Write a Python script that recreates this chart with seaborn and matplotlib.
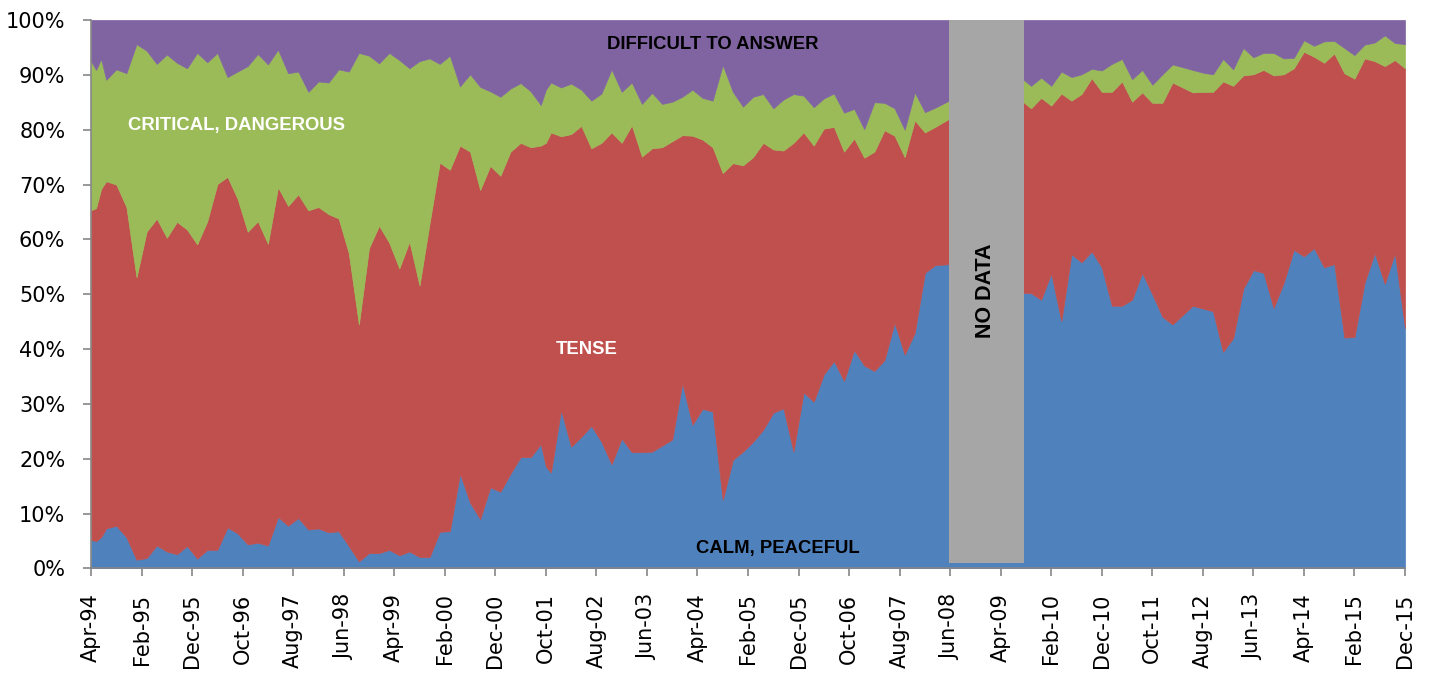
import numpy as np
import pandas as pd
import matplotlib
matplotlib.use("Agg")
import matplotlib.pyplot as plt
import seaborn as sns
from matplotlib.patches import Rectangle

# survey months, counted from Apr-1994 (0) to Dec-2015 (260)
months = [0, 1, 2, 3, 5, 7, 9, 11, 13, 15, 17, 19, 21, 23, 25, 27, 29, 31, 33, 35,
          37, 39, 41, 43, 45, 47, 49, 51, 53, 55, 57, 59, 61, 63, 65, 67, 69, 71, 73, 75,
          77, 79, 81, 83, 85, 87, 89, 90, 91, 93, 95, 97, 99, 101, 103, 105, 107, 109, 111, 113,
          115, 117, 119, 121, 123, 125, 127, 129, 131, 133, 135, 137, 139, 141, 143, 145, 147, 149, 151, 153,
          155, 157, 159, 161, 163, 165, 167, 170, 184, 186, 188, 190, 192, 194, 196, 198, 200, 202, 204, 206,
          208, 210, 212, 214, 216, 218, 220, 222, 224, 226, 228, 230, 232, 234, 236, 238, 240, 242, 244, 246,
          248, 250, 252, 254, 256, 258, 260]

calm = [5.2, 5.0, 5.7, 7.3, 7.8, 5.7, 1.6, 1.9, 4.2, 3.1, 2.6, 4.1, 1.8, 3.4, 3.4, 7.5, 6.4, 4.4, 4.7, 4.2,
        9.4, 7.8, 9.2, 7.1, 7.3, 6.6, 6.8, 4.1, 1.3, 2.8, 2.8, 3.4, 2.4, 3.1, 2.1, 2.1, 6.7, 6.8, 17.3, 12.0,
        9.0, 14.8, 14.0, 17.3, 20.3, 20.3, 22.7, 18.6, 17.5, 28.9, 22.2, 24.0, 26.0, 23.1, 19.0, 23.7, 21.2, 21.2, 21.3, 22.4,
        23.5, 33.8, 26.2, 29.1, 28.6, 12.5, 19.8, 21.3, 23.1, 25.3, 28.4, 29.2, 21.3, 32.1, 30.4, 35.4, 37.8, 34.2, 39.8, 37.0,
        36.0, 38.0, 44.8, 39.0, 43.0, 53.9, 55.3, 55.5, 50.3, 50.2, 49.0, 53.8, 45.1, 57.3, 55.8, 57.8, 54.9, 47.9, 47.9, 49.0,
        53.9, 50.0, 45.9, 44.5, 46.2, 47.9, 47.4, 46.9, 39.5, 42.0, 51.0, 54.4, 53.9, 47.5, 52.1, 58.1, 56.9, 58.4, 54.9, 55.5,
        42.1, 42.2, 52.1, 57.5, 51.9, 57.5, 43.8]

tense = [60.1, 60.7, 63.5, 63.3, 62.2, 60.2, 51.5, 59.5, 59.6, 57.2, 60.6, 57.7, 57.3, 59.9, 66.7, 63.9, 61.0, 57.0, 58.6, 55.0,
         60.1, 58.3, 59.0, 58.2, 58.6, 58.0, 57.0, 53.4, 43.2, 55.6, 59.7, 56.0, 52.3, 56.5, 49.5, 60.9, 67.3, 65.9, 59.8, 64.0,
         60.0, 58.6, 57.6, 58.7, 57.3, 56.5, 54.4, 59.0, 62.0, 49.9, 57.0, 56.7, 50.6, 54.5, 60.5, 53.9, 59.6, 53.9, 55.3, 54.4,
         54.4, 45.2, 52.7, 49.1, 48.2, 59.6, 54.1, 52.2, 51.9, 52.3, 48.0, 47.0, 56.3, 47.4, 46.7, 44.8, 42.7, 41.8, 38.6, 37.9,
         40.0, 41.9, 34.1, 36.0, 38.7, 25.6, 25.2, 26.6, 35.1, 33.7, 36.8, 30.6, 41.5, 28.0, 30.7, 31.6, 32.0, 39.0, 40.9, 36.1,
         32.9, 34.9, 39.0, 44.1, 41.5, 38.9, 39.5, 40.0, 49.3, 46.0, 38.9, 35.7, 37.0, 42.4, 38.0, 33.1, 37.3, 34.9, 37.3, 38.4,
         48.2, 47.1, 40.9, 35.0, 39.7, 35.2, 47.4]

critical = [27.2, 25.2, 23.7, 18.5, 21.0, 24.4, 42.5, 33.0, 28.2, 33.4, 29.0, 29.4, 34.9, 29.0, 23.9, 18.2, 23.2, 30.2, 30.5, 32.7,
            25.1, 24.2, 22.4, 21.6, 22.9, 24.0, 27.2, 33.1, 49.5, 35.1, 29.6, 34.6, 38.0, 31.6, 40.9, 30.0, 18.0, 20.8, 10.8, 14.1,
            18.8, 13.6, 14.4, 11.5, 10.9, 10.2, 7.4, 9.7, 9.1, 8.9, 9.2, 6.6, 8.7, 9.0, 11.5, 9.3, 7.8, 9.6, 10.1, 7.9,
            7.2, 7.0, 8.4, 7.6, 8.5, 19.7, 13.0, 10.7, 11.0, 8.9, 7.5, 9.3, 8.9, 6.7, 7.0, 5.5, 6.1, 7.1, 5.4, 5.2,
            9.0, 5.0, 5.0, 5.0, 5.1, 3.7, 3.5, 3.3, 4.1, 4.1, 3.7, 3.6, 4.0, 4.3, 3.6, 1.7, 3.9, 5.1, 4.1, 4.1,
            4.1, 3.3, 5.2, 3.3, 3.7, 4.1, 3.5, 3.2, 4.1, 3.0, 5.0, 3.1, 3.1, 4.1, 2.9, 1.9, 2.1, 2.0, 3.9, 2.3,
            4.6, 4.3, 2.5, 3.4, 5.6, 3.1, 4.4]

difficult = [7.5, 9.1, 7.1, 10.9, 9.0, 9.7, 4.4, 5.6, 8.0, 6.3, 7.8, 8.8, 6.0, 7.7, 6.0, 10.4, 9.4, 8.4, 6.2, 8.1,
             5.4, 9.7, 9.4, 13.1, 11.2, 11.4, 9.0, 9.4, 6.0, 6.5, 7.9, 6.0, 7.3, 8.8, 7.5, 7.0, 8.0, 6.5, 12.1, 9.9,
             12.2, 13.0, 14.0, 12.5, 11.5, 13.0, 15.5, 12.7, 11.4, 12.3, 11.6, 12.7, 14.7, 13.4, 9.0, 13.1, 11.4, 15.3, 13.3, 15.3,
             14.9, 14.0, 12.7, 14.2, 14.7, 8.2, 13.1, 15.8, 14.0, 13.5, 16.1, 14.5, 13.5, 13.8, 15.9, 14.3, 13.4, 16.9, 16.2, 19.9,
             15.0, 15.1, 16.1, 20.0, 13.2, 16.8, 16.0, 14.6, 10.5, 12.0, 10.5, 12.0, 9.4, 10.4, 9.9, 8.9, 9.2, 8.0, 7.1, 10.8,
             9.1, 11.8, 9.9, 8.1, 8.6, 9.1, 9.6, 9.9, 7.1, 9.0, 5.1, 6.8, 6.0, 6.0, 7.0, 6.9, 3.7, 4.7, 3.9, 3.8,
             5.1, 6.4, 4.5, 4.1, 2.8, 4.2, 4.4]

series_labels = ["CALM, PEACEFUL", "TENSE", "CRITICAL, DANGEROUS", "DIFFICULT TO ANSWER"]
tick_labels = pd.date_range("1994-04-01", "2015-12-01", freq="10MS").strftime("%b-%y")

sns.set_theme(style="white")
plt.rcParams["font.family"] = ["DejaVu Sans"]

colors = ["#4F81BD", "#C0504D", "#9BBB59", "#8064A2"]
axis_grey = "#868686"

fig, ax = plt.subplots(figsize=(14.29, 6.73), dpi=100)
fig.subplots_adjust(left=0.0637, right=0.9832, top=0.9703, bottom=0.1553)

polys = ax.stackplot(months, calm, tense, critical, difficult, colors=colors, labels=series_labels)
for p, c in zip(polys, colors):
    p.set_edgecolor(c)
    p.set_linewidth(0.5)

# gap in the survey
ax.add_patch(Rectangle((169.8, 1.0), 14.8, 99.0, facecolor="#A6A6A6", edgecolor="none", zorder=3))

lab_font = dict(family="Liberation Sans", fontweight="bold", ha="center", va="center")
ax.text(28.8, 80.8, "CRITICAL, DANGEROUS", color="white", fontsize=13.3, **lab_font)
ax.text(123.1, 95.5, "DIFFICULT TO ANSWER", color="black", fontsize=13.3, **lab_font)
ax.text(98.1, 40.0, "TENSE", color="white", fontsize=13.3, **lab_font)
ax.text(135.9, 3.7, "CALM, PEACEFUL", color="black", fontsize=13.3, **lab_font)
ax.text(176.9, 50.7, "NO DATA", color="black", rotation=90, zorder=4, fontsize=15.5, **lab_font)

ax.set_xlim(0, 260)
ax.set_ylim(0, 100)
ax.set_xticks(np.arange(0, 261, 10))
ax.set_xticklabels(tick_labels, rotation=90)
ax.set_yticks(np.arange(0, 101, 10))
ax.set_yticklabels([f"{v}%" for v in range(0, 101, 10)])

for side in ["top", "right"]:
    ax.spines[side].set_visible(False)
for side in ["left", "bottom"]:
    ax.spines[side].set_color(axis_grey)
    ax.spines[side].set_linewidth(1.2)
    ax.spines[side].set_zorder(5)

ax.tick_params(axis="both", which="major", direction="out", length=6, width=1.2,
               color=axis_grey, labelsize=15, labelcolor="black")
ax.tick_params(axis="y", pad=12.5, left=True)
ax.tick_params(axis="x", pad=12, bottom=True)
ax.grid(False)

fig.savefig("out.png", dpi=100)
